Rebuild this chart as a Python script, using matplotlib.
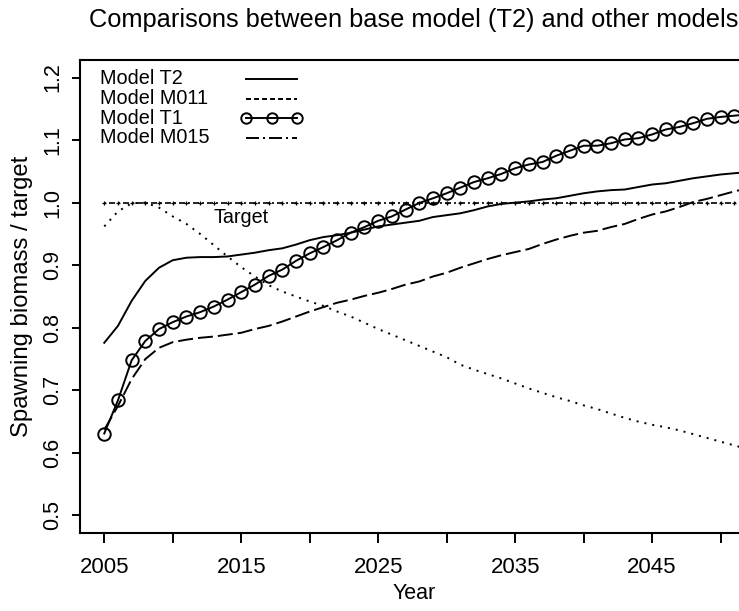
import matplotlib
matplotlib.use('Agg')
import matplotlib.pyplot as plt
from matplotlib.lines import Line2D

plt.rcParams['font.family'] = ['Liberation Sans', 'DejaVu Sans']
plt.rcParams['lines.scale_dashes'] = False

years = list(range(2005, 2053))

model_t2 = [0.776, 0.803, 0.843, 0.875, 0.896, 0.908, 0.912, 0.913, 0.913, 0.914,
            0.917, 0.920, 0.924, 0.927, 0.933, 0.940, 0.945, 0.948, 0.952, 0.957,
            0.962, 0.965, 0.968, 0.971, 0.977, 0.980, 0.983, 0.988, 0.994, 0.998,
            1.000, 1.002, 1.005, 1.007, 1.011, 1.015, 1.018, 1.020, 1.021, 1.025,
            1.029, 1.031, 1.035, 1.039, 1.042, 1.045, 1.047, 1.049]

model_m011 = [0.962, 0.986, 0.999, 1.000, 0.992, 0.978, 0.966, 0.950, 0.932, 0.914,
              0.897, 0.882, 0.868, 0.858, 0.850, 0.842, 0.835, 0.826, 0.818, 0.808,
              0.798, 0.789, 0.780, 0.771, 0.762, 0.753, 0.741, 0.733, 0.726, 0.719,
              0.711, 0.703, 0.696, 0.689, 0.683, 0.676, 0.670, 0.663, 0.656, 0.650,
              0.645, 0.641, 0.636, 0.630, 0.624, 0.618, 0.612, 0.606]

model_t1 = [0.631, 0.684, 0.748, 0.779, 0.798, 0.809, 0.818, 0.825, 0.834, 0.845,
            0.857, 0.869, 0.883, 0.893, 0.907, 0.919, 0.929, 0.940, 0.952, 0.961,
            0.971, 0.978, 0.989, 0.9995, 1.007, 1.015, 1.024, 1.033, 1.039, 1.046,
            1.055, 1.061, 1.065, 1.075, 1.083, 1.091, 1.091, 1.095, 1.101, 1.103,
            1.109, 1.117, 1.121, 1.127, 1.134, 1.137, 1.139, 1.141]

model_m015 = [0.637, 0.675, 0.718, 0.750, 0.768, 0.777, 0.781, 0.784, 0.786, 0.789,
              0.792, 0.798, 0.803, 0.810, 0.818, 0.826, 0.833, 0.840, 0.845, 0.851,
              0.856, 0.862, 0.869, 0.874, 0.882, 0.888, 0.896, 0.903, 0.910, 0.916,
              0.921, 0.926, 0.934, 0.941, 0.947, 0.952, 0.955, 0.961, 0.966, 0.974,
              0.981, 0.986, 0.993, 1.001, 1.006, 1.012, 1.018, 1.023]

target = [1.0] * len(years)

legend_labels = ['Model T2', 'Model M011', 'Model T1', 'Model M015']
xtick_vals = list(range(2005, 2051, 5))
ytick_vals = [0.5, 0.6, 0.7, 0.8, 0.9, 1.0, 1.1, 1.2]

W, H = 739, 611
fig = plt.figure(figsize=(W / 100, H / 100), dpi=100)
# plot box runs past the right edge of the picture, like the original
AX_L, AX_R, AX_T, AX_B = 80, 748, 60, 533
ax = fig.add_axes([AX_L / W, (H - AX_B) / H, (AX_R - AX_L) / W, (AX_B - AX_T) / H])

px = 0.72  # one pixel in points
lw = 1.4

ax.plot(years, model_t2, color='black', lw=lw)
ax.plot(years, model_m011, color='black', lw=lw, dashes=(2 * px, 6 * px))
ax.plot(years, model_t1, color='black', lw=lw, marker='o', ms=9,
        mfc='none', mec='black', mew=1.4)
ax.plot(years, model_m015, color='black', lw=lw, dashes=(15 * px, 5 * px))
ax.plot(years, target, color='black', lw=1.2,
        dashes=(2 * px, 3 * px, 6 * px, 3 * px), marker='+', ms=3.5, mew=0.9)
ax.text(2015, 0.977, 'Target', ha='center', va='center', fontsize=14.2)

ax.set_xlim(2003.23, 2052.0)
ax.set_ylim(0.472, 1.228)

ax.set_xticks(xtick_vals)
ax.set_xticklabels([str(y) if i % 2 == 0 else '' for i, y in enumerate(xtick_vals)])
ax.set_yticks(ytick_vals)
ax.set_yticklabels(['%.1f' % v for v in ytick_vals], rotation=90, va='center')

ax.tick_params(axis='x', length=7, width=1.4, pad=10, labelsize=16)
ax.tick_params(axis='y', length=6, width=1.4, pad=6, labelsize=15.5)
for s in ax.spines.values():
    s.set_linewidth(1.5)

ax.set_xlabel('Year', fontsize=15.5, va='center')
ax.xaxis.set_label_coords(0.5, -0.127)
ax.set_ylabel('Spawning biomass / target', fontsize=17.2, va='center')
ax.yaxis.set_label_coords((22 - AX_L) / (AX_R - AX_L), 0.5)

fig.text(414 / W, 1 - 20 / H, 'Comparisons between base model (T2) and other models',
         ha='center', va='center', fontsize=18.3)


def to_ax(x, y):
    return (x - AX_L) / (AX_R - AX_L), (AX_B - y) / (AX_B - AX_T)


# legend, drawn the way the original shows it (its line types differ from the curves)
leg_styles = [
    dict(),
    dict(dashes=(5 * px, 3 * px)),
    dict(marker='o', ms=7.5, mfc='none', mew=1.4),
    dict(dashes=(13 * px, 4 * px, 2 * px, 4 * px)),
]
leg_rows = [79, 98.5, 118, 137.5]
for label, style, ry in zip(legend_labels, leg_styles, leg_rows):
    tx, ty = to_ax(100, ry)
    ax.text(tx, ty, label, transform=ax.transAxes, ha='left', va='center', fontsize=14.3)
    x0, yy = to_ax(246, ry)
    x1, _ = to_ax(297, ry)
    if 'marker' in style:
        xs = [x0, (x0 + x1) / 2, x1]
    else:
        xs = [x0, x1]
    ax.add_line(Line2D(xs, [yy] * len(xs), transform=ax.transAxes, color='black',
                       lw=lw, **style))

fig.savefig('out.png', dpi=100)
